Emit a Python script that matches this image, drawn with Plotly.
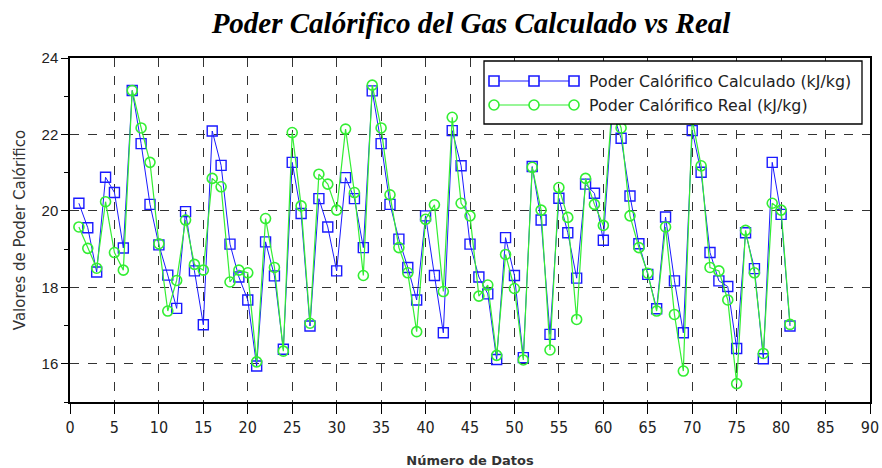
import plotly.graph_objects as go

# Sample index (Número de Datos)
sample_no = list(range(1, 82))

# Poder calórifico calculado (kJ/kg)
calculado = [
    20.20, 19.56, 18.40, 20.88, 20.48, 19.03, 23.15, 21.76, 20.17, 19.11,
    18.32, 17.45, 19.98, 18.43, 17.02, 22.09, 21.19, 19.13, 18.27, 17.67,
    15.94, 19.19, 18.30, 16.38, 21.27, 19.93, 16.99, 20.32, 19.58, 18.43,
    20.87, 20.32, 19.04, 23.14, 21.76, 20.17, 19.26, 18.52, 17.67, 19.87,
    18.31, 16.81, 22.10, 21.18, 19.13, 18.27, 17.83, 16.11, 19.30, 18.31,
    16.16, 21.16, 19.76, 16.77, 20.33, 19.43, 18.24, 20.70, 20.46, 19.23,
    22.60, 21.90, 20.39, 19.14, 18.34, 17.44, 19.84, 18.17, 16.81, 22.10,
    21.01, 18.91, 18.17, 18.02, 16.40, 19.43, 18.49, 16.13, 21.27, 19.91,
    16.99,
]

# Poder calórifico real (kJ/kg)
real = [
    19.58, 19.02, 18.50, 20.24, 18.91, 18.45, 23.15, 22.17, 21.27, 19.14,
    17.38, 18.18, 19.76, 18.60, 18.45, 20.85, 20.63, 18.14, 18.45, 18.38,
    16.05, 19.80, 18.52, 16.33, 22.05, 20.13, 17.06, 20.96, 20.70, 20.02,
    22.14, 20.48, 18.31, 23.29, 22.17, 20.42, 19.04, 18.38, 16.84, 19.78,
    20.16, 17.89, 22.45, 20.20, 19.87, 17.77, 18.06, 16.22, 18.86, 17.97,
    16.10, 21.14, 20.02, 16.36, 20.61, 19.83, 17.16, 20.85, 20.17, 19.62,
    22.80, 22.17, 19.87, 19.04, 18.37, 17.38, 19.58, 17.29, 15.81, 22.40,
    21.18, 18.52, 18.43, 17.67, 15.48, 19.49, 18.38, 16.27, 20.20, 20.02,
    17.03,
]

series_names = ["Poder Calórifico Calculado (kJ/kg)", "Poder Calórifico Real (kJ/kg)"]
x_ticks = list(range(0, 91, 5))
y_ticks = [16, 18, 20, 22, 24]

BLUE = "#1a1aff"
GREEN = "#33ee33"

W, H = 882, 468
ML, MR, MT, MB = 70, 12, 58, 66
PW, PH = W - ML - MR, H - MT - MB


def px(x):
    return (x - ML) / PW


def py(y):
    return (H - MB - y) / PH


fig = go.Figure()
fig.add_trace(go.Scatter(
    x=sample_no, y=calculado, name=series_names[0], mode="lines+markers",
    line=dict(color=BLUE, width=1),
    marker=dict(symbol="square-open", size=10, color=BLUE, line=dict(width=1.4)),
    showlegend=False,
))
fig.add_trace(go.Scatter(
    x=sample_no, y=real, name=series_names[1], mode="lines+markers",
    line=dict(color=GREEN, width=1.2),
    marker=dict(symbol="circle-open", size=10, color=GREEN, line=dict(width=1.6)),
    showlegend=False,
))

axis_common = dict(
    showline=True, linecolor="black", linewidth=1.5, mirror=True,
    ticks="outside", tickcolor="black", tickwidth=1.3,
    showgrid=True, gridcolor="#333333", gridwidth=1.4, griddash="dash",
    zeroline=False, automargin=False,
)

fig.update_xaxes(
    range=[0, 90], tickvals=x_ticks, ticklen=10,
    tickfont=dict(family="Liberation Sans Narrow, DejaVu Sans Condensed, Arial", size=16, color="#222"),
    title=dict(text="Número de Datos", standoff=20,
               font=dict(family="DejaVu Sans", size=13, color="#333", weight="bold")),
    **axis_common,
)
fig.update_yaxes(
    range=[15, 24], tickvals=y_ticks, ticklen=7,
    tickfont=dict(family="Liberation Sans, Arial", size=15, color="#222"),
    minor=dict(dtick=1, tick0=15, ticks="outside", ticklen=4, tickcolor="black", showgrid=False),
    title=dict(text="Valores de Poder Calórifico", standoff=12,
               font=dict(family="DejaVu Sans", size=15, color="#333")),
    **axis_common,
)

# Legend box with three markers per entry
shapes = [dict(type="rect", xref="paper", yref="paper",
               x0=px(484), x1=px(862), y0=py(124), y1=py(61),
               line=dict(color="black", width=1.3), fillcolor="white", layer="above")]
annotations = []
rows = [(81, BLUE, "square"), (105, GREEN, "circle")]
for (ry, col, kind), label in zip(rows, series_names):
    shapes.append(dict(type="line", xref="paper", yref="paper",
                       x0=px(494), x1=px(574), y0=py(ry), y1=py(ry),
                       line=dict(color=col, width=1.2), layer="above"))
    for mx in (494, 534, 574):
        shapes.append(dict(type="rect" if kind == "square" else "circle",
                           xref="paper", yref="paper",
                           x0=px(mx - 5), x1=px(mx + 5), y0=py(ry + 5), y1=py(ry - 5),
                           line=dict(color=col, width=1.6), fillcolor="white", layer="above"))
    annotations.append(dict(x=px(587), y=py(ry), xref="paper", yref="paper",
                            text=label, showarrow=False, xanchor="left", yanchor="middle",
                            font=dict(family="DejaVu Sans", size=15.8, color="#222")))

fig.update_layout(
    width=W, height=H,
    margin=dict(l=ML, r=MR, t=MT, b=MB),
    paper_bgcolor="white", plot_bgcolor="white",
    title=dict(text="<b><i>Poder Calórifico del Gas Calculado vs Real</i></b>",
               xref="paper", x=px(471), xanchor="center",
               yref="container", y=1 - 23 / H, yanchor="middle",
               font=dict(family="Liberation Serif, Times New Roman", size=29, color="black")),
    shapes=shapes,
    annotations=annotations,
)

fig.write_html("out.html")
